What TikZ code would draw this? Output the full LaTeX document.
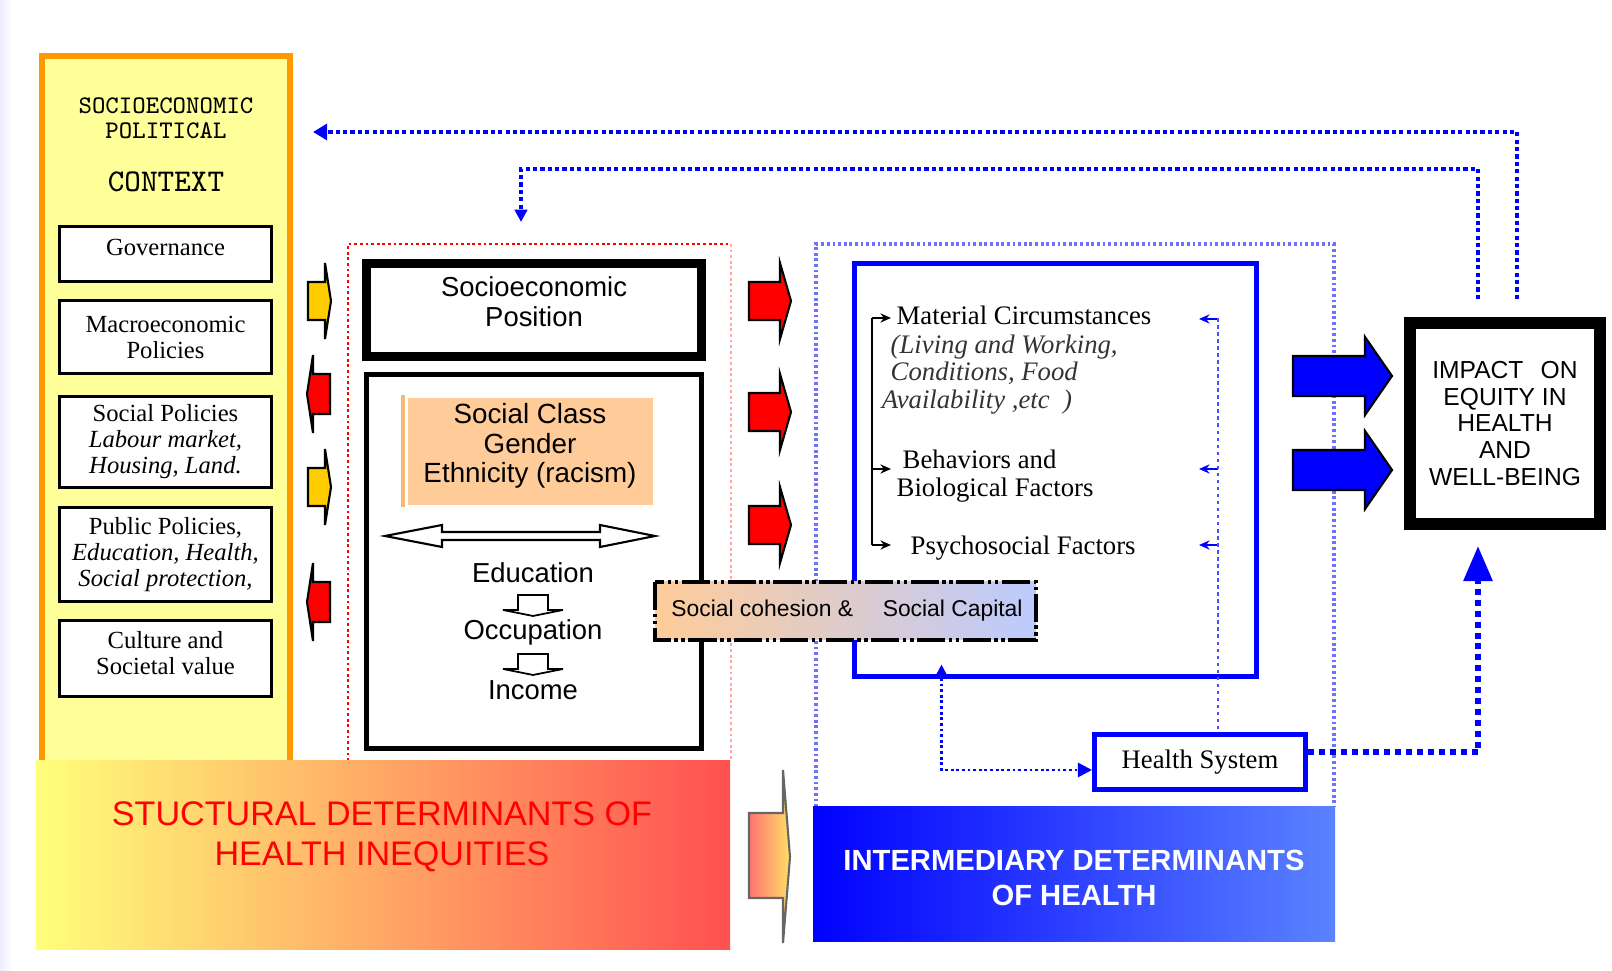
\documentclass[tikz,border=0pt]{standalone}
\usepackage{fontspec}
\setmainfont{Liberation Serif}
\setsansfont{Liberation Sans}
\usetikzlibrary{arrows.meta,calc}

\definecolor{ctxfill}{HTML}{FFFF99}
\definecolor{ctxline}{HTML}{FF9900}
\definecolor{peach}{HTML}{FFCC99}
\definecolor{peachline}{HTML}{F8B878}
\definecolor{pale}{HTML}{BCCBFF}
\definecolor{sdleft}{HTML}{FFFF7A}
\definecolor{sdright}{HTML}{FF5050}
\definecolor{idleft}{HTML}{0000FF}
\definecolor{idright}{HTML}{5B82FF}
\definecolor{amber}{HTML}{FFCC00}
\definecolor{bluedot}{HTML}{7070FF}

\tikzset{
  policy/.style={draw, line width=0.85pt, fill=white, minimum width=2.12cm,
    inner sep=0pt, align=center, font=\fontsize{7}{7.4}\selectfont},
  sanstext/.style={inner sep=0pt, align=center, font=\sffamily\fontsize{7.8}{8.4}\selectfont},
  serifitem/.style={inner sep=0pt, anchor=west, align=left, font=\fontsize{7.6}{7.8}\selectfont},
  fback/.style={draw=blue, line width=1.1pt, dash pattern=on 1.2pt off 0.9pt},
  hsleft/.style={draw=blue, line width=0.8pt, dash pattern=on 0.8pt off 0.8pt},
  hsright/.style={draw=blue, line width=1.7pt, dash pattern=on 1.7pt off 1.4pt},
  thinblue/.style={draw=blue!70, line width=0.5pt, dash pattern=on 1pt off 1pt},
  tinytip/.style={-{Stealth[length=3pt,width=2.6pt]}}
}

\begin{document}
\begin{tikzpicture}[x=0.01cm, y=-0.01cm]
\useasboundingbox (0,0) rectangle (1612,971);
\shade[left color=blue!7, right color=white] (0,0) rectangle (12,971);

% context column
\filldraw[fill=ctxfill, draw=ctxline, line width=1.7pt] (42,56) rectangle (290,770);
\node[inner sep=0pt, align=center, font=\ttfamily\fontsize{7.2}{7.2}\selectfont] (ctxTitle) at (166,118) {SOCIOECONOMIC\\POLITICAL};
\node[inner sep=0pt, font=\ttfamily\fontsize{9}{9}\selectfont] (ctxName) at (166,182) {CONTEXT};
\node[policy, minimum height=0.55cm, text depth=3.6pt] (gov) at (165.5,254) {Governance};
\node[policy, minimum height=0.73cm] (macro) at (165.5,337) {Macroeconomic\\Policies};
\node[policy, minimum height=0.91cm] (social) at (165.5,442) {Social Policies\\\textit{Labour market,}\\\textit{Housing, Land.}};
\node[policy, minimum height=0.94cm] (public) at (165.5,554.5) {Public Policies,\\\textit{Education, Health,}\\\textit{Social protection,}};
\node[policy, minimum height=0.76cm, text depth=3.2pt] (culture) at (165.5,658.5) {Culture and\\Societal value};

% small arrows next to the context column
\foreach \yc in {301,487}{
  \filldraw[fill=amber, draw=black, line width=0.6pt] (308,\yc-19) -- (325,\yc-19) -- (325,\yc-38) -- (331,\yc) -- (325,\yc+38) -- (325,\yc+19) -- (308,\yc+19) -- cycle;
}
\foreach \yc in {394,602}{
  \filldraw[fill=red, draw=black, line width=0.6pt] (330,\yc-20) -- (313,\yc-20) -- (313,\yc-39) -- (307,\yc) -- (313,\yc+39) -- (313,\yc+20) -- (330,\yc+20) -- cycle;
}

% structural part
\draw[red, line width=0.8pt, dash pattern=on 0.8pt off 0.8pt] (348,761) -- (348,244) -- (731,244);
\draw[red!35, line width=0.8pt, dash pattern=on 0.8pt off 0.8pt] (731,244) -- (731,761);
\node[draw, line width=2.55pt, minimum width=3.35cm, minimum height=0.93cm] (sep) at (534,310) {};
\node[sanstext, font=\sffamily\fontsize{7.8}{8.5}\selectfont] (sepLbl) at (534,302) {Socioeconomic\\Position};
\node[draw, line width=1.4pt, minimum width=3.34cm, minimum height=3.73cm] (sdbox) at (534,561.5) {};
\fill[peach] (408,398) rectangle (653,505);
\draw[peachline, line width=0.9pt] (403,395) -- (403,507);
\node[sanstext, font=\sffamily\fontsize{7.9}{8.3}\selectfont] (classes) at (530,446) {Social Class\\Gender\\Ethnicity (racism)};
\draw[fill=white, line width=0.6pt] (385,536) -- (442,525) -- (442,532) -- (600,532) -- (600,525) -- (655,536) -- (600,547) -- (600,540) -- (442,540) -- (442,547) -- cycle;
\node[sanstext] (edu) at (533,573) {Education};
\node[sanstext] (occ) at (533,632) {Occupation};
\node[sanstext] (inc) at (533,690) {Income};
\foreach \ya in {595,654}{
  \draw[fill=white, line width=0.5pt] (518,\ya) -- (548,\ya) -- (548,\ya+15) -- (563,\ya+15) -- (533,\ya+21) -- (503,\ya+15) -- (518,\ya+15) -- cycle;
}

% arrows towards intermediary part
\foreach \yc in {301,412,525}{
  \filldraw[fill=red, draw=black, line width=0.6pt] (749,\yc-19) -- (780,\yc-19) -- (780,\yc-38) -- (791,\yc) -- (780,\yc+38) -- (780,\yc+19) -- (749,\yc+19) -- cycle;
}

% intermediary part
\draw[bluedot, line width=0.9pt, dash pattern=on 0.8pt off 0.8pt] (816,807) -- (816,244) -- (1334,244) -- (1334,807);
\node[draw=blue, line width=1.4pt, minimum width=4.01cm, minimum height=4.12cm] (mech) at (1055.5,470) {};
\node[serifitem] (matC) at (896,315) {Material Circumstances};
\node[serifitem, text=black!80] (matD) at (890,374.5) {\textit{(Living and Working,}\\\textit{Conditions, Food}\\\hspace{-2.5pt}\textit{Availability ,etc~~)}};
\node[serifitem] (behav) at (902,459) {Behaviors and};
\node[serifitem] (biol) at (896,490) {Biological Factors};
\node[serifitem] (psych) at (910,548) {Psychosocial Factors};
\draw[line width=0.6pt] (872,318) -- (872,545);
\foreach \yy in {318,469,545}
  \draw[tinytip, line width=0.6pt] (872,\yy) -- (891,\yy);
\coordinate (mcRight) at (1218,318);
\foreach \yy in {319,469,545}
  \draw[tinytip, blue, line width=0.5pt] (1218,\yy) -- (1199,\yy);

\node[draw=blue, line width=1.4pt, fill=white, minimum width=2.11cm, minimum height=0.55cm, font=\fontsize{7.6}{8}\selectfont] (hs) at (1200,762) {Health System};
\draw[thinblue] (mcRight) -- (mcRight |- hs.north);

% social cohesion
\shade[left color=peach, right color=pale] (655,582) rectangle (1036,640);
\draw[line width=1.4pt, dash pattern=on 8pt off 1pt on 1pt off 1pt on 1pt off 1pt] (655,582) rectangle (1036,640);
\node[sanstext, font=\sffamily\fontsize{6.5}{7}\selectfont] (cohesion) at (847,611) {Social cohesion \&\hspace{1.3em}Social Capital};

% impact
\node[draw, line width=3.4pt, fill=white, minimum width=1.90cm, minimum height=2.01cm, align=center, font=\sffamily\fontsize{7}{7.65}\selectfont] (impact) at (1505,423.5) {IMPACT\hspace{0.7em}ON\\EQUITY IN\\HEALTH\\AND\\WELL-BEING};
\foreach \yc in {376,470}{
  \filldraw[fill=blue, draw=black, line width=0.6pt] (1293,\yc-20) -- (1365,\yc-20) -- (1365,\yc-39) -- (1392,\yc) -- (1365,\yc+39) -- (1365,\yc+20) -- (1293,\yc+20) -- cycle;
}

% feedback connectors
\coordinate (ctxArr) at (313,132);
\coordinate (sepArr) at (521,222);
\draw[fback, -{Triangle[length=4pt,width=4.5pt]}] ($(impact.north)+(12,-18)$) |- (ctxArr);
\draw[fback, -{Triangle[length=3.5pt,width=3.5pt]}] ($(impact.north)+(-27,-18)$) |- ($(sepArr)+(0,-53)$) -- (sepArr);
\draw[hsright, -{Triangle[length=10pt,width=8pt]}] ($(hs.east)+(0,-10)$) -| ($(impact.south)+(-27,16)$);
\draw[hsleft, {Triangle[length=4pt,width=4pt]}-{Triangle[length=4pt,width=4pt]}] ($(mech.south)+(-114,-14)$) |- ($(hs.west)+(0,8)$);

% bottom bands
\shade[left color=sdleft, right color=sdright] (36,761) rectangle (730,950);
\node[inner sep=0pt, align=center, text=red, font=\sffamily\fontsize{9.7}{11.3}\selectfont] (sdLbl) at (382,837) {STUCTURAL DETERMINANTS OF\\HEALTH INEQUITIES};
\shade[left color=idleft, right color=idright] (813,807) rectangle (1335,942);
\node[inner sep=0pt, align=center, text=white, font=\sffamily\bfseries\fontsize{8.3}{10.2}\selectfont] (idLbl) at (1074,878) {INTERMEDIARY DETERMINANTS\\OF HEALTH};
\shade[draw=black!60, line width=0.6pt, left color=red!55, right color=amber!60] (749,813) -- (783,813) -- (783,770) -- (790,857) -- (783,943) -- (783,898) -- (749,898) -- cycle;
\end{tikzpicture}
\end{document}
